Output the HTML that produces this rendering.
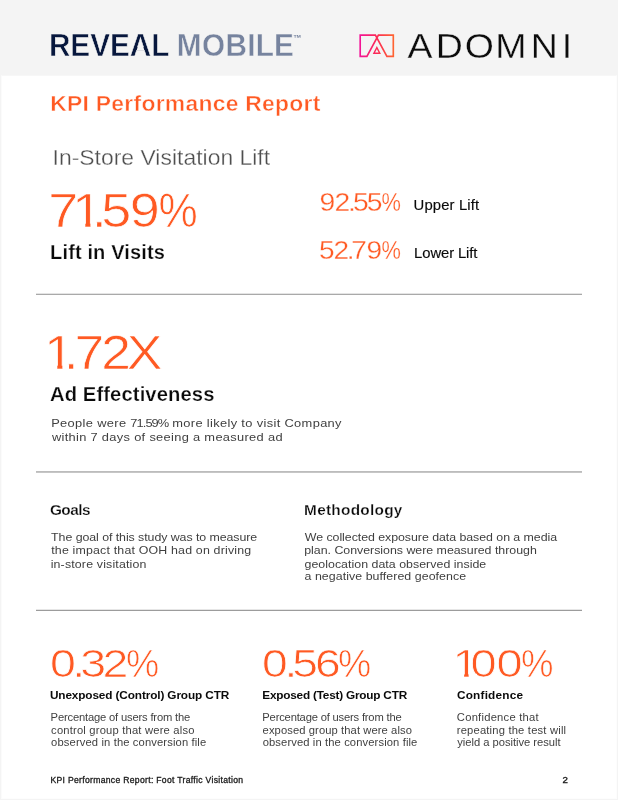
<!DOCTYPE html>
<html lang="en">
<head>
<meta charset="utf-8">
<title>KPI Performance Report</title>
<style>
  html, body { margin: 0; padding: 0; background: #f4f4f4; }
  body {
    width: 618px; height: 800px; overflow: hidden; position: relative;
    background: #f4f4f4;
    font-family: "Liberation Sans", sans-serif;
    color: #111;
  }
  .sheet { position: absolute; left: 1px; top: 75px; width: 614px; height: 722px; background: #fff; border: 1px solid #fdfdfd; border-top-color: #f7f7f7; border-left-color: #fbfbfb; }
  .t { position: absolute; white-space: nowrap; line-height: 1; margin: 0; transform-origin: 0 0; }
  .g { display: inline-block; transform-origin: 0 0; }
  .ov { position: absolute; left: 0; top: 0; }
  .hr { position: absolute; left: 36px; width: 546px; height: 1px; }
</style>
</head>
<body>
<div class="sheet"></div>

<svg style="position:absolute; left:355px; top:30px;" width="44" height="30" viewBox="355 30 44 30">
  <defs>
    <linearGradient id="g" gradientUnits="userSpaceOnUse" x1="359" y1="0" x2="394" y2="0">
      <stop offset="0" stop-color="#f3129a"/>
      <stop offset="0.5" stop-color="#fb2a56"/>
      <stop offset="1" stop-color="#ff6530"/>
    </linearGradient>
  </defs>
  <g fill="none" stroke="url(#g)" stroke-linejoin="miter">
    <path stroke-width="1.65" d="M366.9 56.4 H360.2 V35.1 H375.4 L386.9 56.4 H393.3 V35.1 H378.4 Z"/>
    <path stroke-width="1.4" d="M376.85 47.6 L373.9 53.2 H379.8 Z"/>
  </g>
</svg>

<div class="hr" style="top:293px; background:#e4e4e4"></div>
<div class="hr" style="top:294px; background:#a9a9a9"></div>
<div class="hr" style="top:471px; background:#bcbcbc"></div>
<div class="hr" style="top:472px; background:#c6c6c6"></div>
<div class="hr" style="top:609px; background:#e6e6e6"></div>
<div class="hr" style="top:610px; background:#9c9c9c"></div>

<svg class="ov" width="618" height="800" viewBox="0 0 618 800" font-family="Liberation Sans, sans-serif">
<clipPath id="c_rev"><path clip-rule="evenodd" d="M0 0H618V800H0Z M136.50 50.69 L144.51 50.69 L143.20 46.62 L137.81 46.62Z"/></clipPath>
<g clip-path="url(#c_rev)"><text class="st" id="rev" y="56" x="52.80 75.67 97.04 118.19 139.52 162.74" font-size="32" fill="#07173d" font-weight="bold" stroke="#f4f4f4" stroke-width="0.6" transform="scale(0.9300,1)">REVEAL</text></g>
</svg>
<svg class="ov" width="618" height="800" viewBox="0 0 618 800" font-family="Liberation Sans, sans-serif">
<text class="st" id="mob" y="56" x="190.16 217.28 242.39 265.76 274.87 294.54" font-size="32" fill="#76839e" font-weight="bold" stroke="#f4f4f4" stroke-width="0.45" transform="scale(0.9300,1)">MOBILE</text>
</svg>
<div class="t" id="tm" style="left:292px; top:34.01px; font-size:9.2px; color:#76839e; font-weight:bold; transform:translateX(0.89px) scaleX(0.93);">™</div>
<svg class="ov" width="618" height="800" viewBox="0 0 618 800" font-family="Liberation Sans, sans-serif">
<text class="st" id="adomni" y="58" x="373.86 399.68 426.46 454.43 486.92 515.33" font-size="34.4" fill="#0c0c0c" stroke="#f4f4f4" stroke-width="0.3" transform="scale(1.0900,1)">ADOMNI</text>
</svg>
<div class="t" id="title" style="left:50px; top:93.00px; font-size:21.6px; color:#ff5a23; font-weight:bold; letter-spacing:0.255px; transform:translateX(0.17px) scaleX(1.06); -webkit-text-stroke:0.45px #fff;">KPI Performance Report</div>
<div class="t" id="sub" style="left:52px; top:147.00px; font-size:22.0px; color:#4e4e4e; letter-spacing:0.023px; transform:translateX(0.51px) scaleX(1.04); -webkit-text-stroke:0.3px #fff;">In-Store Visitation Lift</div>
<svg class="ov" width="618" height="800" viewBox="0 0 618 800" font-family="Liberation Sans, sans-serif">
<clipPath id="c_n1"><path clip-rule="evenodd" d="M0 0H618V800H0Z M74.53 222.92H85.33V229.00H74.53Z M90.40 222.92H97.13V229.00H90.40Z M160.90 189.66H260.40V234.00H160.90Z"/></clipPath>
<g clip-path="url(#c_n1)"><text class="st" id="n1" y="227" x="42.76 63.62 81.24 89.67 114.92 142.83" font-size="47.8" fill="#ff5a23" stroke="#fff" stroke-width="0.7" transform="scale(1.1300,1)">71.59%</text></g>
<text class="st" id="n1_p" y="227" x="171.97" font-size="47.8" fill="#ff5a23" stroke="#fff" stroke-width="0.7" transform="scale(0.9218,1)">%</text>
</svg>
<div class="t" id="l1" style="left:50px; top:242.01px; font-size:20.0px; color:#0a0a0a; font-weight:bold; letter-spacing:0.132px; transform:translateX(0.11px); -webkit-text-stroke:0.25px #fff;">Lift in Visits</div>
<svg class="ov" width="618" height="800" viewBox="0 0 618 800" font-family="Liberation Sans, sans-serif">
<clipPath id="c_n2"><path clip-rule="evenodd" d="M0 0H618V800H0Z M382.80 190.69H482.30V214.81H382.80Z"/></clipPath>
<g clip-path="url(#c_n2)"><text class="st" id="n2" y="211" x="293.21 306.98 319.26 323.93 336.52 351.65" font-size="26.0" fill="#ff5a23" stroke="#fff" stroke-width="0.3" transform="scale(1.0900,1)">92.55%</text></g>
<text class="st" id="n2_p" y="211" x="454.80" font-size="26.0" fill="#ff5a23" stroke="#fff" stroke-width="0.3" transform="scale(0.8386,1)">%</text>
</svg>
<div class="t" id="l2" style="left:413px; top:198.00px; font-size:14.4px; color:#0a0a0a; letter-spacing:0.137px; transform:translateX(0.62px) scaleX(1.03); -webkit-text-stroke:0.15px #0a0a0a;">Upper Lift</div>
<svg class="ov" width="618" height="800" viewBox="0 0 618 800" font-family="Liberation Sans, sans-serif">
<clipPath id="c_n3"><path clip-rule="evenodd" d="M0 0H618V800H0Z M382.80 238.69H482.30V262.81H382.80Z"/></clipPath>
<g clip-path="url(#c_n3)"><text class="st" id="n3" y="259" x="295.47 308.71 321.18 325.30 339.25 354.91" font-size="26.0" fill="#ff5a23" stroke="#fff" stroke-width="0.3" transform="scale(1.0800,1)">52.79%</text></g>
<text class="st" id="n3_p" y="259" x="454.80" font-size="26.0" fill="#ff5a23" stroke="#fff" stroke-width="0.3" transform="scale(0.8386,1)">%</text>
</svg>
<div class="t" id="l3" style="left:414px; top:246.00px; font-size:14.4px; color:#0a0a0a; letter-spacing:-0.099px; transform:translateX(0.10px) scaleX(1.03); -webkit-text-stroke:0.15px #0a0a0a;">Lower Lift</div>
<svg class="ov" width="618" height="800" viewBox="0 0 618 800" font-family="Liberation Sans, sans-serif">
<clipPath id="c_n4"><path clip-rule="evenodd" d="M0 0H618V800H0Z M46.61 364.92H57.31V371.00H46.61Z M62.34 364.92H69.10V371.00H62.34Z"/></clipPath>
<g clip-path="url(#c_n4)"><text class="st" id="n4" y="369" x="39.28 56.89 66.43 90.40 113.23" font-size="47.8" fill="#ff5a23" stroke="#fff" stroke-width="0.7" transform="scale(1.1200,1)">1.72X</text></g>
</svg>
<div class="t" id="l4" style="left:49px; top:384.01px; font-size:20.2px; color:#0a0a0a; font-weight:bold; letter-spacing:0.119px; transform:translateX(0.97px); -webkit-text-stroke:0.25px #fff;">Ad Effectiveness</div>
<div class="t" id="p1a" style="left:51px; top:417.00px; font-size:11.7px; color:#3f3f3f; letter-spacing:0.312px; transform:translateX(0.16px) scaleX(1.1);">People were <span style="letter-spacing:-0.85px">71.59%</span> more likely to visit Company</div>
<div class="t" id="p1b" style="left:51px; top:431.01px; font-size:11.7px; color:#3f3f3f; letter-spacing:0.284px; transform:translateX(0.88px) scaleX(1.1);">within 7 days of seeing a measured ad</div>
<div class="t" id="h1" style="left:49px; top:503.00px; font-size:14.5px; color:#0a0a0a; font-weight:bold; letter-spacing:-0.498px; transform:translateX(0.92px) scaleX(1.06); -webkit-text-stroke:0.25px #fff;">Goals</div>
<div class="t" id="h2" style="left:304px; top:503.00px; font-size:14.5px; color:#0a0a0a; font-weight:bold; letter-spacing:0.249px; transform:translateX(0.08px) scaleX(1.06); -webkit-text-stroke:0.25px #fff;">Methodology</div>
<div class="t" id="p2a" style="left:51px; top:532.00px; font-size:11.8px; color:#3f3f3f; letter-spacing:-0.066px; transform:translateX(0.12px) scaleX(1.05);">The goal of this study was to measure</div>
<div class="t" id="p2b" style="left:51px; top:545.01px; font-size:11.8px; color:#3f3f3f; letter-spacing:0.167px; transform:translateX(0.21px) scaleX(1.05);">the impact that OOH had on driving</div>
<div class="t" id="p2c" style="left:50px; top:559.01px; font-size:11.8px; color:#3f3f3f; letter-spacing:0.148px; transform:translateX(0.65px) scaleX(1.05);">in-store visitation</div>
<div class="t" id="p3a" style="left:304px; top:532.00px; font-size:11.8px; color:#3f3f3f; letter-spacing:-0.050px; transform:translateX(0.78px) scaleX(1.05);">We collected exposure data based on a media</div>
<div class="t" id="p3b" style="left:304px; top:545.01px; font-size:11.8px; color:#3f3f3f; letter-spacing:-0.021px; transform:translateX(0.21px) scaleX(1.05);">plan. Conversions were measured through</div>
<div class="t" id="p3c" style="left:304px; top:559.01px; font-size:11.8px; color:#3f3f3f; letter-spacing:0.020px; transform:translateX(0.47px) scaleX(1.05);">geolocation data observed inside</div>
<div class="t" id="p3d" style="left:304px; top:571.01px; font-size:11.8px; color:#3f3f3f; letter-spacing:0.049px; transform:translateX(0.47px) scaleX(1.05);">a negative buffered geofence</div>
<svg class="ov" width="618" height="800" viewBox="0 0 618 800" font-family="Liberation Sans, sans-serif">
<clipPath id="c_n5"><path clip-rule="evenodd" d="M0 0H618V800H0Z M128.00 646.92H227.50V682.64H128.00Z"/></clipPath>
<g clip-path="url(#c_n5)"><text class="st" id="n5" y="677" x="41.40 59.79 66.37 84.63 106.20" font-size="38.5" fill="#ff5a23" stroke="#fff" stroke-width="0.7" transform="scale(1.2100,1)">0.32%</text></g>
<text class="st" id="n5_p" y="677" x="129.75" font-size="38.5" fill="#ff5a23" stroke="#fff" stroke-width="0.7" transform="scale(0.9702,1)">%</text>
</svg>
<svg class="ov" width="618" height="800" viewBox="0 0 618 800" font-family="Liberation Sans, sans-serif">
<clipPath id="c_n6"><path clip-rule="evenodd" d="M0 0H618V800H0Z M340.00 646.92H439.50V682.64H340.00Z"/></clipPath>
<g clip-path="url(#c_n6)"><text class="st" id="n6" y="677" x="218.39 237.01 243.59 262.42 283.75" font-size="38.5" fill="#ff5a23" stroke="#fff" stroke-width="0.7" transform="scale(1.2000,1)">0.56%</text></g>
<text class="st" id="n6_p" y="677" x="348.26" font-size="38.5" fill="#ff5a23" stroke="#fff" stroke-width="0.7" transform="scale(0.9702,1)">%</text>
</svg>
<svg class="ov" width="618" height="800" viewBox="0 0 618 800" font-family="Liberation Sans, sans-serif">
<clipPath id="c_n7"><path clip-rule="evenodd" d="M0 0H618V800H0Z M454.77 673.71H464.14V679.00H454.77Z M468.59 673.71H477.11V679.00H468.59Z M523.30 646.92H622.80V682.64H523.30Z"/></clipPath>
<g clip-path="url(#c_n7)"><text class="st" id="n7" y="677" x="370.89 385.66 406.94 429.34" font-size="38.5" fill="#ff5a23" stroke="#fff" stroke-width="0.7" transform="scale(1.2200,1)">100%</text></g>
<text class="st" id="n7_p" y="677" x="548.83" font-size="38.5" fill="#ff5a23" stroke="#fff" stroke-width="0.7" transform="scale(0.9494,1)">%</text>
</svg>
<div class="t" id="k1" style="left:49px; top:690.01px; font-size:11.8px; color:#0a0a0a; font-weight:bold; letter-spacing:-0.126px; transform:translateX(0.93px);">Unexposed (Control) Group CTR</div>
<div class="t" id="k2" style="left:262px; top:690.01px; font-size:11.8px; color:#0a0a0a; font-weight:bold; letter-spacing:-0.216px; transform:translateX(0.27px);">Exposed (Test) Group CTR</div>
<div class="t" id="k3" style="left:456px; top:690.01px; font-size:11.8px; color:#0a0a0a; font-weight:bold; letter-spacing:0.202px; transform:translateX(0.97px);">Confidence</div>
<div class="t" id="p4a" style="left:50px; top:713.01px; font-size:10.2px; color:#3f3f3f; letter-spacing:-0.164px; transform:translateX(0.62px) scaleX(1.1);">Percentage of users from the</div>
<div class="t" id="p4b" style="left:51px; top:726.00px; font-size:10.2px; color:#3f3f3f; letter-spacing:0.169px; transform:translateX(0.09px) scaleX(1.1);">control group that were also</div>
<div class="t" id="p4c" style="left:51px; top:738.00px; font-size:10.2px; color:#3f3f3f; letter-spacing:0.113px; transform:translateX(0.12px) scaleX(1.1);">observed in the conversion file</div>
<div class="t" id="p5a" style="left:262px; top:713.01px; font-size:10.2px; color:#3f3f3f; letter-spacing:-0.174px; transform:translateX(0.32px) scaleX(1.1);">Percentage of users from the</div>
<div class="t" id="p5b" style="left:262px; top:726.00px; font-size:10.2px; color:#3f3f3f; letter-spacing:0.078px; transform:translateX(0.59px) scaleX(1.1);">exposed group that were also</div>
<div class="t" id="p5c" style="left:262px; top:738.00px; font-size:10.2px; color:#3f3f3f; letter-spacing:0.099px; transform:translateX(0.68px) scaleX(1.1);">observed in the conversion file</div>
<div class="t" id="p6a" style="left:456px; top:713.01px; font-size:10.2px; color:#3f3f3f; letter-spacing:0.212px; transform:translateX(0.84px) scaleX(1.1);">Confidence that</div>
<div class="t" id="p6b" style="left:456px; top:726.00px; font-size:10.2px; color:#3f3f3f; letter-spacing:0.167px; transform:translateX(0.73px) scaleX(1.1);">repeating the test will</div>
<div class="t" id="p6c" style="left:457px; top:738.00px; font-size:10.2px; color:#3f3f3f; letter-spacing:-0.033px; transform:translateX(0.30px) scaleX(1.1);">yield a positive result</div>
<div class="t" id="f1" style="left:50px; top:777.01px; font-size:8.2px; color:#1a1a1a; letter-spacing:0.296px; transform:translateX(0.40px) scaleX(1.05); -webkit-text-stroke:0.3px #1a1a1a;">KPI Performance Report: Foot Traffic Visitation</div>
<div class="t" id="f2" style="left:562px; top:776.01px; font-size:8.8px; color:#1a1a1a; transform:translateX(0.49px) scaleX(1.1); -webkit-text-stroke:0.35px #1a1a1a;">2</div>

</body>
</html>
